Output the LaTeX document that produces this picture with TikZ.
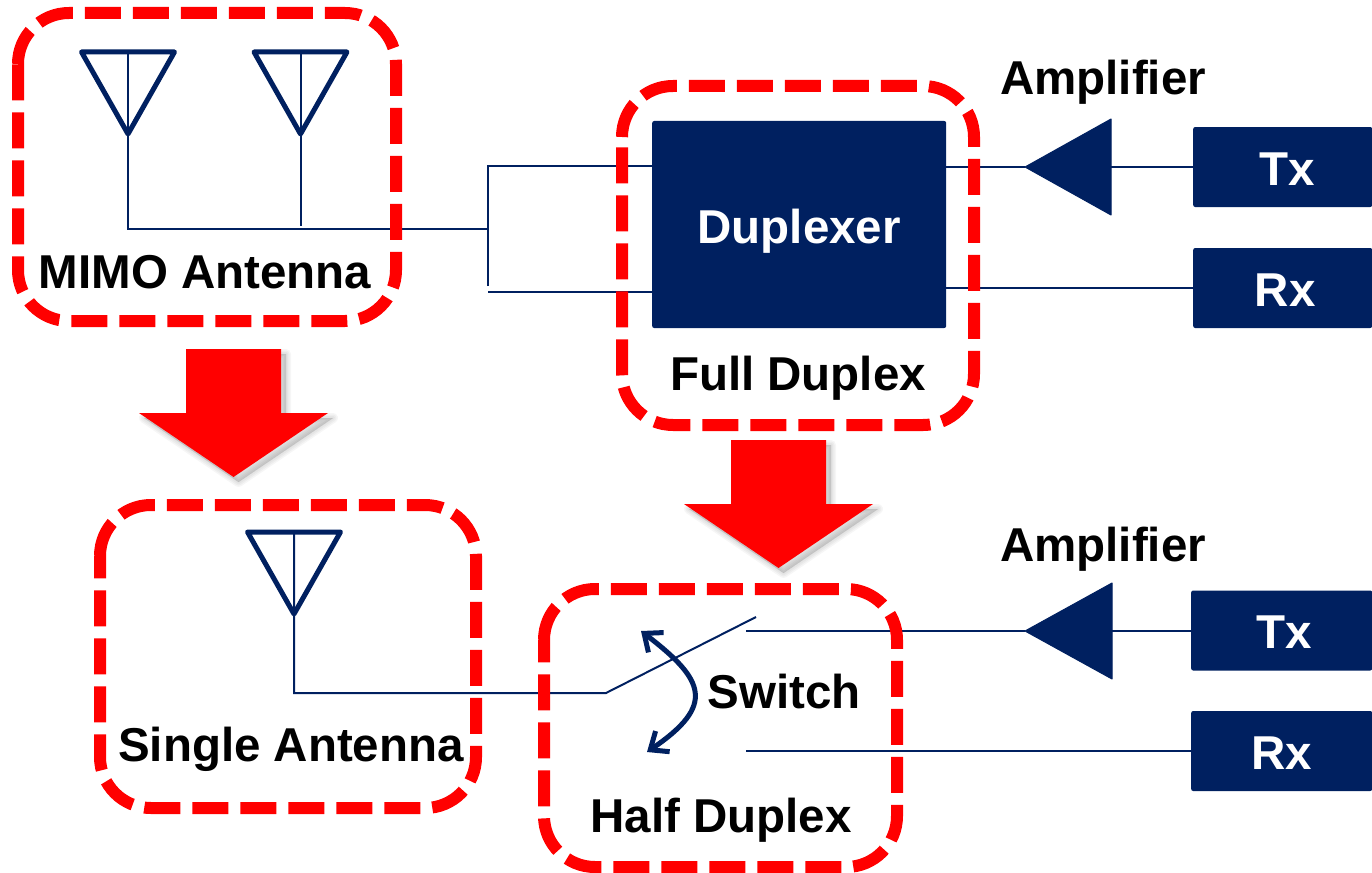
\documentclass[tikz,border=0pt]{standalone}
\usepackage{fontspec}
\setmainfont{Liberation Sans}
\usetikzlibrary{arrows.meta}
\definecolor{navy}{HTML}{002060}
\tikzset{
    wire/.style={navy,line width=2pt},
    antline/.style={navy,line width=5pt,line join=round},
    dashbox/.style={red,line width=12pt,rounded corners=51pt,dash pattern=on 36pt off 12pt},
    blockbox/.style={fill=navy,rounded corners=2pt,text=white,anchor=west,minimum width=179pt,minimum height=80pt,inner sep=0pt,text height=36pt,text depth=0pt,font=\fontsize{47.5}{50}\selectfont\bfseries},
    lbl/.style={anchor=base,inner sep=0pt,font=\fontsize{47.5}{50}\selectfont\bfseries}
}
\begin{document}
\begin{tikzpicture}[x=1pt,y=-1pt]
    \useasboundingbox (0,0) rectangle (1372,872);
    % blocks
    \node[blockbox,minimum width=294pt,minimum height=207pt,text height=37pt] (duplexer) at (652,224.5) {Duplexer};
    \node[blockbox] (txa) at (1193,167) {\hspace{8pt}Tx};
    \node[blockbox] (rxa) at (1193,288) {\hspace{5pt}Rx};
    \node[blockbox,minimum width=181pt] (txb) at (1191,630.5) {\hspace{5pt}Tx};
    \node[blockbox,minimum width=181pt] (rxb) at (1191,751) {Rx};
    % antennas
    \foreach \p/\xa/\ya in {anta/128/52,antb/300.5/52,antc/294/532} {
        \coordinate (\p) at (\xa,\ya);
        \draw[antline] (\xa-46.5,\ya) -- (\xa+46.5,\ya) -- (\xa,\ya+82) -- cycle;
    }
    % amplifiers
    \foreach \p/\xa/\ya in {ampa/1111/167,ampb/1112/631} {
        \coordinate (\p) at (1025,\ya);
        \coordinate (\p base) at (\xa,\ya);
        \fill[navy,draw=navy,line width=1pt,line join=round] (\p) -- (\xa,\ya-48) -- (\xa,\ya+48) -- cycle;
    }
    \coordinate (antbend) at (300.5,226);
    \coordinate (feed) at (488,229);
    \coordinate (juntop) at (488,166);
    \coordinate (junend) at (488,286);
    \coordinate (junbot) at (488,292);
    \coordinate (switchbend) at (606,693);
    \coordinate (switchend) at (756,617);
    \coordinate (contacttx) at (746,631);
    \coordinate (contactrx) at (746,751);
    % wires
    \draw[wire] (anta) |- (feed);
    \draw[wire] (antb) -- (antbend);
    \draw[wire] (junend) |- (duplexer.west |- juntop);
    \draw[wire] (junbot) -- (duplexer.west |- junbot);
    \draw[wire] (duplexer.east |- ampa) -- (ampa);
    \draw[wire] (ampabase) -- (txa.west);
    \draw[wire] (duplexer.east |- rxa.west) -- (rxa.west);
    \draw[wire] (antc) |- (switchbend) -- (switchend);
    \draw[wire] (contacttx) -- (ampb);
    \draw[wire] (ampbbase) -- (txb.west |- ampb);
    \draw[wire] (contactrx) -- (rxb.west);
    % switch arrow
    \draw[navy,line width=5pt,{Straight Barb[length=15pt,width=25pt,line width=5pt]}-{Straight Barb[length=15pt,width=25pt,line width=5pt]}] (641,631) .. controls (705,680) and (716,705) .. (647,752);
    % red arrows
    \foreach \xa/\ya in {233.5/349,778.5/440} {
        \begin{scope}[shift={(\xa,\ya)}]
            \foreach \w in {10,7,4,1} {
                \fill[black,opacity=0.035,draw=black,line width=\w pt,line join=round,shift={(5,5)}] (-47.5,0) -- (47.5,0) -- (47.5,64) -- (94.5,64) -- (0,128) -- (-94.5,64) -- (-47.5,64) -- cycle;
            }
            \fill[red] (-47.5,0) -- (47.5,0) -- (47.5,64) -- (94.5,64) -- (0,128) -- (-94.5,64) -- (-47.5,64) -- cycle;
        \end{scope}
    }
    % dashed groups
    \foreach \xa/\ya/\xb/\yb in {18/13/396/321,622/86/974/425,100/505/476/808,544/589/897/867} {
        \draw[dashbox] (\xa,\ya+51) -- (\xa,\ya) -- (\xb,\ya) -- (\xb,\yb) -- (\xa,\yb) -- (\xa,\ya+51);
    }
    % labels
    \node[lbl] (mimolbl) at (205,288) {MIMO Antenna};
    \node[lbl] (fulllbl) at (798,390) {Full Duplex};
    \node[lbl] (singlelbl) at (291,761) {Single Antenna};
    \node[lbl] (halflbl) at (721,832) {Half Duplex};
    \node[lbl] (switchlbl) at (784,708) {Switch};
    \node[lbl] (ampalbl) at (1103,95) {Amplifier};
    \node[lbl] (ampblbl) at (1103,561) {Amplifier};
\end{tikzpicture}
\end{document}
